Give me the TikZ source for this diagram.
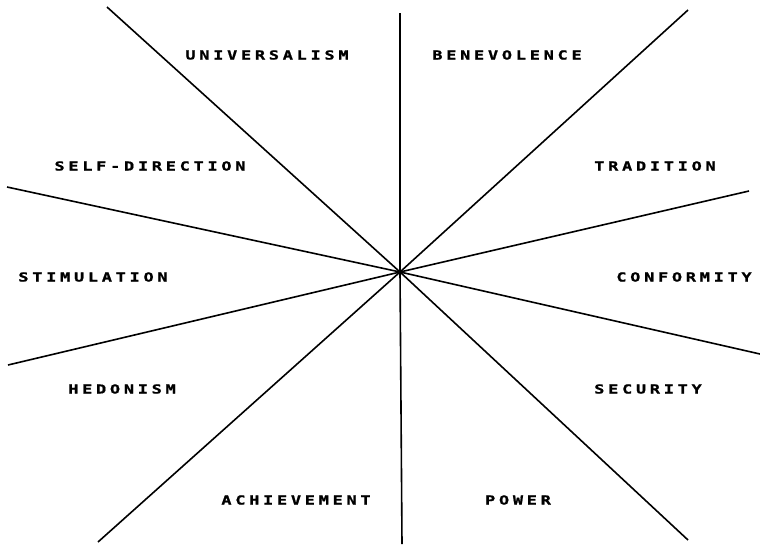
\documentclass[tikz,border=0pt]{standalone}
\usepackage{fontspec}
\newfontfamily\plotfont[FakeStretch=1.35,FakeBold=1.2,LetterSpace=30]{DejaVu Sans Mono Bold}
\begin{document}
\begin{tikzpicture}[x=1pt,y=-1pt,
  spoke/.style={line width=1.6pt,black},
  lab/.style={font=\plotfont\fontsize{12.5}{12.5}\selectfont,inner sep=0pt,anchor=center}]
\useasboundingbox (0,0) rectangle (760,544);
\coordinate (c) at (400,272);
\coordinate (n) at (400,13);
\coordinate (s) at (402,544);
\coordinate (nw) at (107,7);
\coordinate (se) at (688,540);
\coordinate (ne) at (688,10);
\coordinate (sw) at (98,542);
\coordinate (wn) at (7,187);
\coordinate (es) at (760,354);
\coordinate (en) at (749,191);
\coordinate (ws) at (8,365);
\foreach \p in {n,s,nw,se,ne,sw,wn,es,en,ws} \draw[spoke] (c) -- (\p);
\node[lab] (univ) at (267,55) {UNIVERSALISM};
\node[lab] (bene) at (507,55) {BENEVOLENCE};
\node[lab] (self) at (150,166) {SELF-DIRECTION};
\node[lab] (trad) at (655,166) {TRADITION};
\node[lab] (stim) at (93,277) {STIMULATION};
\node[lab] (conf) at (684,277) {CONFORMITY};
\node[lab] (hedo) at (122,389) {HEDONISM};
\node[lab] (secu) at (648,389) {SECURITY};
\node[lab] (achi) at (296,500) {ACHIEVEMENT};
\node[lab] (powe) at (518,500) {POWER};
\end{tikzpicture}
\end{document}
